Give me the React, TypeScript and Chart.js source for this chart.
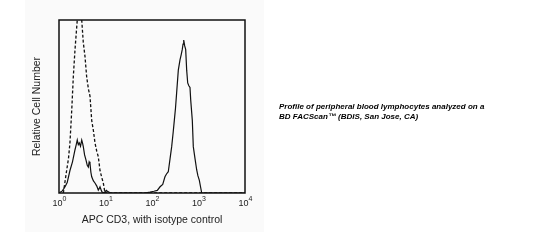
import React, { useEffect, useRef } from "react";
import { Chart, registerables } from "chart.js";

Chart.register(...registerables);

// APC CD3 stained sample (solid) — fluorescence intensity vs relative count
const cd3X = [1.0, 1.18, 1.35, 1.5, 1.72, 1.95, 2.21, 2.35, 2.47, 2.6, 2.73, 2.9, 3.08, 3.2, 3.33, 3.55, 3.81, 4.05, 4.27, 4.45, 4.64, 4.85, 5.05, 5.5, 5.94, 6.5, 7.0, 7.3, 7.62, 8.2, 8.7, 9.6, 10.4, 11.3, 12.5, 30, 70, 90.6, 110, 130, 149, 170, 190, 205, 224, 245, 265, 285, 302, 320, 339, 368, 400, 425, 448, 465, 481, 505, 530, 557, 586, 620, 656, 680, 736, 773, 840, 915, 970, 1040, 1172, 3000, 10000];
const cd3Y = [0, 1.2, 3.6, 6, 13, 18, 25, 28, 30.6, 28, 29, 27, 30.6, 29, 26.8, 22, 19, 16, 15, 18, 17, 12, 9.4, 7, 5.8, 4, 1.7, 2.5, 3.6, 1.2, 0, 0.5, 1.5, 0.8, 0, 0, 0, 0.5, 1, 1.5, 3.6, 5, 9.4, 11, 12.3, 20, 26.8, 35, 42, 49, 58, 71, 77, 80, 83, 86, 88.4, 85, 83, 71, 63.6, 62, 61, 53.8, 42, 26.8, 20, 13.3, 10, 7.5, 0, 0, 0];

// Isotype control (dashed)
const isoX = [1.24, 1.46, 1.6, 1.72, 1.88, 2.03, 2.21, 2.47, 2.76, 3.08, 3.33, 3.62, 3.94, 4.3, 4.64, 5.05, 5.5, 5.94, 6.5, 7.0, 7.62, 8.3, 8.97, 9.75, 11, 13, 100, 10000];
const isoY = [0, 13, 20, 29, 48, 67, 83, 100, 125, 100, 87, 79, 67, 60, 56, 42, 36, 29, 24, 21, 13, 9, 5.8, 0, 0.8, 0, 0, 0];

const xTicks = [1, 10, 100, 1000, 10000];
const xTitle = "APC CD3, with isotype control";
const yTitle = "Relative Cell Number";
const note = [
  "Profile of peripheral blood lymphocytes analyzed on a",
  "BD FACScan\u2122 (BDIS, San Jose, CA)",
];

const W = 549;
const H = 247;

const extras = {
  id: "extras",
  beforeDraw(chart: any) {
    const ctx = chart.ctx;
    ctx.save();
    ctx.fillStyle = "#ffffff";
    ctx.fillRect(0, 0, W, H);
    ctx.fillStyle = "#fafafa";
    ctx.fillRect(25, 0, 239, 232);
    ctx.restore();
  },
  afterDraw(chart: any) {
    const ctx = chart.ctx;
    const a = chart.chartArea;
    ctx.save();
    ctx.strokeStyle = "#111";
    ctx.lineWidth = 1.5;
    ctx.strokeRect(a.left, a.top, a.right - a.left, a.bottom - a.top);
    // tick labels with superscript exponents
    const xs = chart.scales.x;
    ctx.fillStyle = "#222";
    ctx.textBaseline = "alphabetic";
    xs.ticks.forEach((t: any) => {
      const px = xs.getPixelForValue(t.value);
      const exp = String(Math.round(Math.log10(t.value)));
      ctx.font = "9px 'Liberation Sans', Arial, sans-serif";
      const w1 = ctx.measureText("10").width;
      ctx.font = "7px 'Liberation Sans', Arial, sans-serif";
      const w2 = ctx.measureText(exp).width;
      const x0 = px - (w1 + w2) / 2 + 0.5;
      ctx.font = "9px 'Liberation Sans', Arial, sans-serif";
      ctx.fillText("10", x0, 206);
      ctx.font = "7px 'Liberation Sans', Arial, sans-serif";
      ctx.fillText(exp, x0 + w1, 201);
    });
    // annotation
    ctx.fillStyle = "#000";
    ctx.font = "italic bold 8px 'Liberation Sans', Arial, sans-serif";
    ctx.fillText(note[0], 279, 109);
    ctx.fillText(note[1], 279, 119);
    ctx.restore();
  },
};

export default function App() {
  const ref = useRef<HTMLCanvasElement>(null);
  useEffect(() => {
    if (!ref.current) return;
    const chart = new Chart(ref.current, {
      type: "line",
      data: {
        datasets: [
          {
            label: "CD3",
            data: cd3X.map((x, i) => ({ x, y: cd3Y[i] })),
            borderColor: "#111",
            borderWidth: 1.2,
            pointRadius: 0,
            tension: 0,
            fill: false,
          },
          {
            label: "Isotype",
            data: isoX.map((x, i) => ({ x, y: isoY[i] })),
            borderColor: "#111",
            borderWidth: 1.3,
            borderDash: [3, 2],
            pointRadius: 0,
            tension: 0,
            fill: false,
          },
        ],
      },
      plugins: [extras],
      options: {
        responsive: false,
        animation: false,
        devicePixelRatio: 1,
        layout: { padding: { left: 0, top: 20, right: 304, bottom: 0 } },
        plugins: { legend: { display: false }, tooltip: { enabled: false } },
        scales: {
          x: {
            type: "logarithmic",
            min: 1,
            max: 10000,
            grid: { display: false },
            border: { display: false },
            ticks: { display: false },
            afterBuildTicks: (s: any) => {
              s.ticks = xTicks.map((v) => ({ value: v }));
            },
            afterFit: (s: any) => {
              s.height = 54;
            },
            title: {
              display: true,
              text: xTitle,
              color: "#222",
              font: { family: "'Liberation Sans', Arial, sans-serif", size: 10.5 },
              padding: { top: 0, bottom: 21 },
            },
          },
          y: {
            min: 0,
            max: 100,
            grid: { display: false },
            border: { display: false },
            ticks: { display: false },
            afterFit: (s: any) => {
              s.width = 59;
            },
            title: {
              display: true,
              text: yTitle,
              color: "#222",
              font: { family: "'Liberation Sans', Arial, sans-serif", size: 10.5 },
              padding: { top: 31, bottom: 0 },
            },
          },
        },
      },
    } as any);
    return () => chart.destroy();
  }, []);
  return (
    <div style={{ position: "fixed", left: 0, top: 0, width: W, height: H, background: "#fff" }}>
      <canvas ref={ref} width={W} height={H} style={{ display: "block" }} />
    </div>
  );
}
